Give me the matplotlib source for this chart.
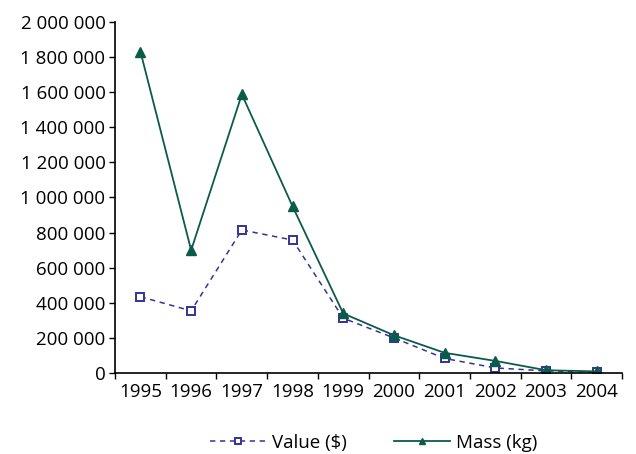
import matplotlib.pyplot as plt
import numpy as np

years = ['1995', '1996', '1997', '1998', '1999', '2000', '2001', '2002', '2003', '2004']
value_usd = [435000, 355000, 815000, 758000, 313000, 201000, 84000, 30000, 13000, 7000]
mass_kg = [1830000, 700000, 1587000, 950000, 340000, 216000, 116000, 70000, 17000, 10000]
y_ticks = [0, 200000, 400000, 600000, 800000, 1000000, 1200000, 1400000, 1600000, 1800000, 2000000]

plt.rcParams['font.family'] = ['Open Sans', 'DejaVu Sans']

fig = plt.figure(figsize=(6.36, 4.54), dpi=100)
ax = fig.add_axes([0.181, 0.178, 0.797, 0.774])

x = np.arange(len(years))
ax.plot(x, value_usd, color='#333399', linestyle=(0, (3.5, 3)), linewidth=1.1,
        marker='s', markersize=6, markerfacecolor='white', markeredgecolor='#333399',
        markeredgewidth=1.4, label='Value ($)')
ax.plot(x, mass_kg, color='#0b5b4b', linewidth=1.3, marker='^', markersize=7,
        markerfacecolor='#0b5b4b', markeredgecolor='#0b5b4b', label='Mass (kg)')

ax.set_xlim(-0.5, len(years) - 0.5)
ax.set_ylim(0, 2000000)

ax.set_xticks(np.arange(-0.5, len(years), 1.0))
ax.set_xticklabels([])
ax.set_xticks(x, minor=True)
ax.set_xticklabels(years, minor=True)
ax.tick_params(axis='x', which='major', length=4, width=1, direction='out')
ax.tick_params(axis='x', which='minor', length=0, pad=7, labelsize=13.5)

ax.set_yticks(y_ticks)
ax.set_yticklabels(['{:,}'.format(v).replace(',', ' ') for v in y_ticks])
ax.tick_params(axis='y', length=4, width=1, direction='out', labelsize=13.5, pad=3)

for s in ['top', 'right']:
    ax.spines[s].set_visible(False)
for s in ['left', 'bottom']:
    ax.spines[s].set_linewidth(1.2)

ax.legend(loc='center', bbox_to_anchor=(0.51, -0.198), ncol=2, frameon=False,
          fontsize=13.5, handlelength=3.0, columnspacing=2.5, handletextpad=0.3,
          markerscale=0.7)

plt.savefig('out.png', dpi=100)
